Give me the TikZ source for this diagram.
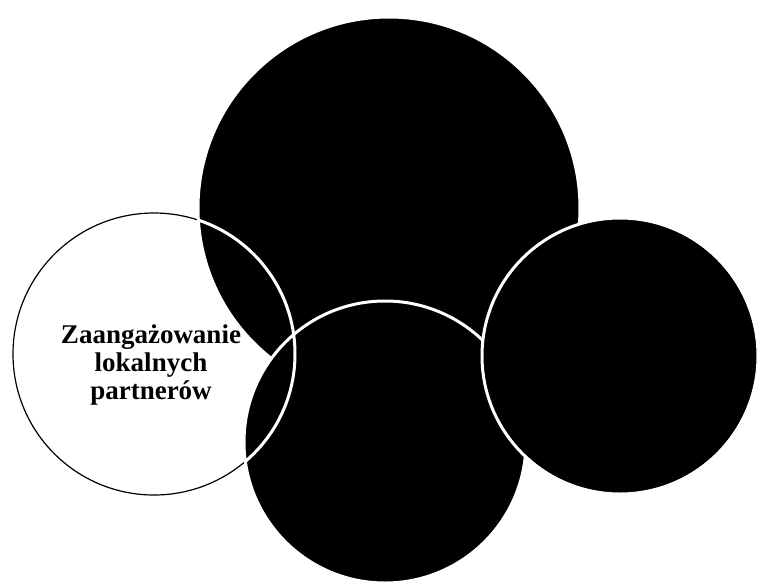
\documentclass[tikz,border=0pt]{standalone}
\usepackage{fontspec}
\setmainfont{Liberation Serif}
\usetikzlibrary{positioning}

\begin{document}
\begin{tikzpicture}[x=0.5pt, y=-0.5pt,
  blob/.style={circle, fill=black, draw=white, line width=1.5pt, inner sep=0pt}]

  \useasboundingbox (0,0) rectangle (762,585);

  % LEFT - only a thin outline, no fill
  \node[circle, draw=black, line width=0.6pt, minimum size=141pt, inner sep=0pt] (lcirc) at (154,354) {};

  % TOP - big one, lowest
  \node[blob, minimum size=191pt] (tcirc) at (389,208) {};
  % BOTTOM
  \node[blob, minimum size=141pt] (bcirc) at (385,442) {};
  % RIGHT
  \node[blob, minimum size=138pt] (rcirc) at (620,356) {};

  % white edge of the left circle where it runs over the black ones
  \begin{scope}
    \clip (tcirc.center) circle[radius=95.5pt] (bcirc.center) circle[radius=70.5pt];
    \draw[white, line width=1.5pt] (lcirc.center) circle[radius=70.5pt];
  \end{scope}

  \node[font=\bfseries\fontsize{13.5}{14}\selectfont, align=center] (lbl) at (151,365)
    {Zaangażowanie\\lokalnych\\partnerów};

\end{tikzpicture}
\end{document}
